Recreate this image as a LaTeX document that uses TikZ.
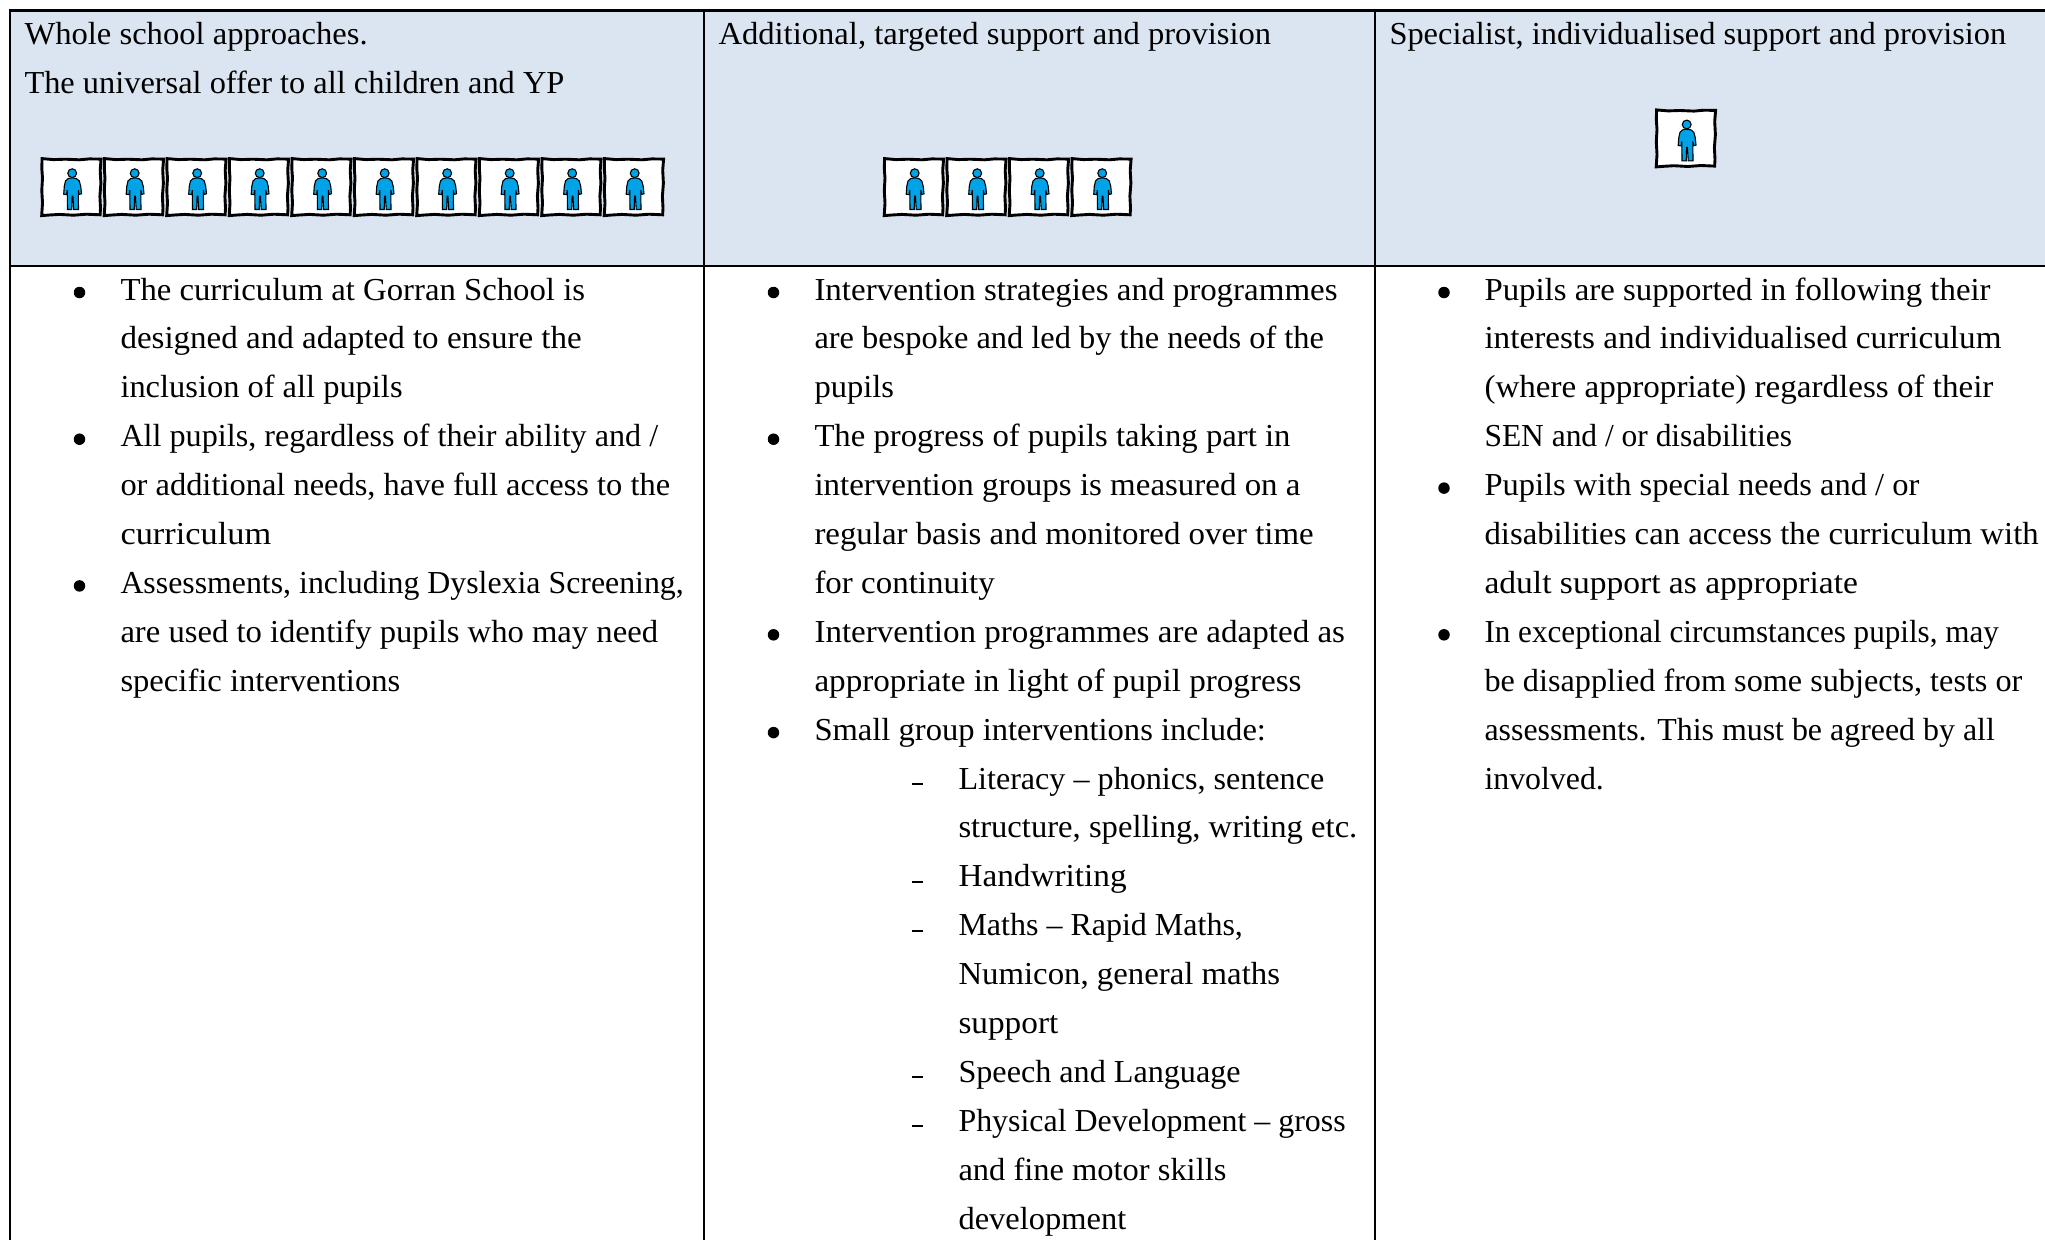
\documentclass[tikz,border=0pt]{standalone}
\usepackage{graphicx}
\usepackage{fontspec}
\setmainfont{Liberation Serif}
\definecolor{headfill}{HTML}{DBE5F1}
\definecolor{pupilblue}{HTML}{00A2E8}
% \tline{horizontal factor}{name}{x}{y}{text}
\newcommand{\tline}[5]{\node[txt] (#2) at (#3,#4) {\scalebox{#1}[1]{#5}};}
\newcommand{\bodyy}[1]{\fpeval{300+48.9*(#1-1)}}
\tikzset{
  txt/.style={anchor=base west,inner sep=0pt,outer sep=0pt,font=\fontsize{32}{32}\selectfont,text=black},
  rule/.style={draw=black,line width=2.5pt},
  bulletdot/.style={circle,fill=black,inner sep=0pt,minimum size=11.5pt},
  dashmark/.style={draw=black,line width=2pt},
  pupil/.pic={
    \draw[fill=white,draw=black,line width=2.9pt,miter limit=4]
      (0.6,0.4) -- (12,1.4) -- (24,1.0) -- (38,1.6) -- (48,0.7) -- (59.6,0.9) -- (58.7,12) -- (59.4,25) -- (58.4,38) -- (59,50) -- (58.6,56.6) -- (45,56) -- (32,57) -- (18,56.2) -- (8,56.8) -- (0.2,57.4) -- (1,45) -- (0.3,32) -- (1,20) -- (0.3,10) -- cycle;
    \draw[fill=pupilblue,draw=black,line width=1.1pt]
      (30.7,19.6) -- (26.5,20.4) -- (24,22.8) -- (22.8,28) -- (22.2,36) -- (25.2,36.4) -- (25.8,32) -- (26,51.3) -- (30.2,51.3) -- (30.6,38) -- (31.4,38) -- (32.2,51.3) -- (37,51.3) -- (36.8,32) -- (37.6,36.2) -- (40,35.6) -- (39.2,28) -- (37.8,22.8) -- (35,20.4) -- cycle;
    \draw[fill=pupilblue,draw=black,line width=1.1pt] (30.7,15) circle (4.4pt);
  }
}
\begin{document}
\begin{tikzpicture}[x=1pt,y=-1pt]
\useasboundingbox (0,0) rectangle (2045,1240);
\fill[white] (0,0) rectangle (2045,1240);
\fill[headfill] (10,10.4) rectangle (2045,266);
% table rules
\coordinate (tl) at (10,10.4);
\coordinate (tr) at (2045,10.4);
\coordinate (ml) at (10,266);
\coordinate (mr) at (2045,266);
\draw[rule] (tl) -- (tr);
\draw[rule] (ml) -- (mr);
\draw[rule] (10,9.15) -- (10,1240);
\draw[rule] (704,9.15) -- (704,1240);
\draw[rule] (1375,9.15) -- (1375,1240);
% headers
\tline{1.019}{h1a}{24.5}{44}{Whole school approaches.}
\tline{1.012}{h1b}{24.5}{93.5}{The universal offer to all children and YP}
\tline{1.019}{h2}{718.5}{44}{Additional, targeted support and provision}
\tline{1.013}{h3}{1389.5}{44}{Specialist, individualised support and provision}
% pupils
\foreach \i in {0,...,9} \pic at ({41.5+62.5*\i},158.2) {pupil};
\foreach \i in {0,...,3} \pic at ({884+62.5*\i},158.2) {pupil};
\pic at (1656,109.5) {pupil};
% column 1
\foreach \n in {1,4,7} \node[bulletdot] at (79.5,{\bodyy{\n}-7.5}) {};
\tline{1.023}{a1}{120.5}{\bodyy{1}}{The curriculum at Gorran School is}
\tline{1.032}{a2}{120.5}{\bodyy{2}}{designed and adapted to ensure the}
\tline{1.014}{a3}{120.5}{\bodyy{3}}{inclusion of all pupils}
\tline{1.005}{a4}{120.5}{\bodyy{4}}{All pupils, regardless of their ability and /}
\tline{1.014}{a5}{120.5}{\bodyy{5}}{or additional needs, have full access to the}
\tline{1.074}{a6}{120.5}{\bodyy{6}}{curriculum}
\tline{0.995}{a7}{120.5}{\bodyy{7}}{Assessments, including Dyslexia Screening,}
\tline{1.02}{a8}{120.5}{\bodyy{8}}{are used to identify pupils who may need}
\tline{1.019}{a9}{120.5}{\bodyy{9}}{specific interventions}
% column 2
\foreach \n in {1,4,8,10} \node[bulletdot] at (773.5,{\bodyy{\n}-7.5}) {};
\tline{1.031}{b1}{814.5}{\bodyy{1}}{Intervention strategies and programmes}
\tline{1.013}{b2}{814.5}{\bodyy{2}}{are bespoke and led by the needs of the}
\tline{1.016}{b3}{814.5}{\bodyy{3}}{pupils}
\tline{1.022}{b4}{814.5}{\bodyy{4}}{The progress of pupils taking part in}
\tline{1.03}{b5}{814.5}{\bodyy{5}}{intervention groups is measured on a}
\tline{1.027}{b6}{814.5}{\bodyy{6}}{regular basis and monitored over time}
\tline{1.03}{b7}{814.5}{\bodyy{7}}{for continuity}
\tline{1.033}{b8}{814.5}{\bodyy{8}}{Intervention programmes are adapted as}
\tline{1.036}{b9}{814.5}{\bodyy{9}}{appropriate in light of pupil progress}
\tline{1.018}{b10}{814.5}{\bodyy{10}}{Small group interventions include:}
\foreach \n in {11,13,14,17,18} \draw[dashmark] (912,{\bodyy{\n}-5}) -- (923,{\bodyy{\n}-5});
\tline{1.004}{c1}{958.5}{\bodyy{11}}{Literacy – phonics, sentence}
\tline{1.02}{c2}{958.5}{\bodyy{12}}{structure, spelling, writing etc.}
\tline{1.04}{c3}{958.5}{\bodyy{13}}{Handwriting}
\tline{1.0}{c4}{958.5}{\bodyy{14}}{Maths – Rapid Maths,}
\tline{1.025}{c5}{958.5}{\bodyy{15}}{Numicon, general maths}
\tline{1.04}{c6}{958.5}{\bodyy{16}}{support}
\tline{1.005}{c7}{958.5}{\bodyy{17}}{Speech and Language}
\tline{0.997}{c8}{958.5}{\bodyy{18}}{Physical Development – gross}
\tline{1.015}{c9}{958.5}{\bodyy{19}}{and fine motor skills}
\tline{1.015}{c10}{958.5}{\bodyy{20}}{development}
% column 3
\foreach \n in {1,5,8} \node[bulletdot] at (1444,{\bodyy{\n}-7.5}) {};
\tline{1.026}{d1}{1484.5}{\bodyy{1}}{Pupils are supported in following their}
\tline{1.037}{d2}{1484.5}{\bodyy{2}}{interests and individualised curriculum}
\tline{1.034}{d3}{1484.5}{\bodyy{3}}{(where appropriate) regardless of their}
\tline{0.983}{d4}{1484.5}{\bodyy{4}}{SEN and / or disabilities}
\tline{1.015}{d5}{1484.5}{\bodyy{5}}{Pupils with special needs and / or}
\tline{1.024}{d6}{1484.5}{\bodyy{6}}{disabilities can access the curriculum with}
\tline{1.048}{d7}{1484.5}{\bodyy{7}}{adult support as appropriate}
\tline{0.973}{d8}{1484.5}{\bodyy{8}}{In exceptional circumstances pupils, may}
\tline{1.007}{d9}{1484.5}{\bodyy{9}}{be disapplied from some subjects, tests or}
\tline{0.997}{d10}{1484.5}{\bodyy{10}}{assessments. This must be agreed by all}
\tline{0.995}{d11}{1484.5}{\bodyy{11}}{involved.}
\end{tikzpicture}
\end{document}
